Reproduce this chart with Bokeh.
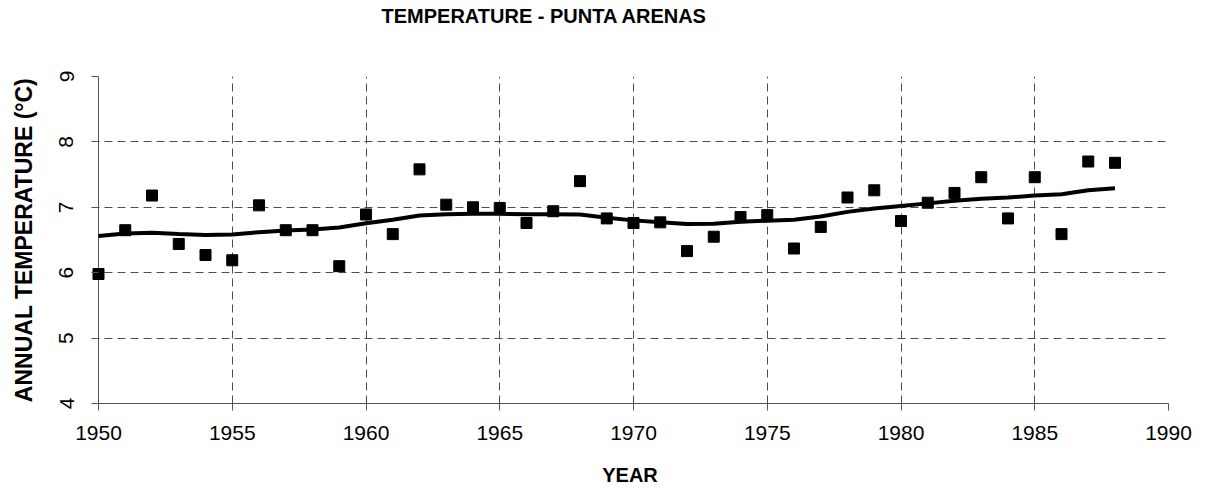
from bokeh.plotting import figure
from bokeh.models import Range1d, FixedTicker, Title, Span
from bokeh.embed import file_html
from bokeh.resources import INLINE

# ---- data ----
years = list(range(1950, 1989))
temps = [5.98, 6.65, 7.18, 6.44, 6.27, 6.19, 7.03, 6.65, 6.65, 6.10,
         6.89, 6.59, 7.58, 7.04, 7.00, 6.99, 6.76, 6.94, 7.40, 6.83,
         6.76, 6.77, 6.33, 6.55, 6.85, 6.88, 6.37, 6.70, 7.15, 7.26,
         6.79, 7.07, 7.22, 7.46, 6.83, 7.46, 6.59, 7.70, 7.68]
trend = [6.56, 6.60, 6.61, 6.59, 6.575, 6.585, 6.62, 6.645, 6.66, 6.69,
         6.755, 6.81, 6.875, 6.895, 6.90, 6.90, 6.895, 6.895, 6.89, 6.84,
         6.80, 6.77, 6.745, 6.75, 6.78, 6.795, 6.81, 6.86, 6.93, 6.98,
         7.02, 7.06, 7.10, 7.13, 7.15, 7.18, 7.20, 7.26, 7.29]
x_ticks = [1950, 1955, 1960, 1965, 1970, 1975, 1980, 1985, 1990]
y_ticks = [4, 5, 6, 7, 8, 9]
title_text = "TEMPERATURE - PUNTA ARENAS"

FONT = "Liberation Sans"
W, H = 1200, 488
FL, FR, FT, FB = 91, 1168, 75, 403
AXIS_X = 98                      # pixel where x=1950 sits
PX_PER_YEAR = (FR - AXIS_X) / 40.0
x_start = 1950 - (AXIS_X - FL) / PX_PER_YEAR
AXIS_GREY = "#555555"

p = figure(width=W, height=H,
           x_range=Range1d(x_start, 1990), y_range=Range1d(4, 9),
           output_backend="svg", toolbar_location=None,
           min_border_left=FL, min_border_right=W - FR,
           min_border_top=FT, min_border_bottom=H - FB,
           title=title_text)
p.outline_line_color = None
p.background_fill_color = "white"
p.border_fill_color = "white"

p.title.text_font = FONT
p.title.text_font_size = "20px"
p.title.text_font_style = "bold"
p.title.text_color = "black"
p.title.align = "left"
p.title.offset = 290
p.title.standoff = 4
# invisible spacer between the title and the frame
p.add_layout(Title(text=" ", text_font_size="1px", standoff=45), "above")

for g in (p.xgrid, p.ygrid):
    g.grid_line_color = "#4d4d4d"
    g.grid_line_dash = "8 5"
    g.grid_line_width = 1

p.xaxis.ticker = FixedTicker(ticks=x_ticks)
p.yaxis.ticker = FixedTicker(ticks=y_ticks)
p.xaxis.bounds = (1950, 1990)
for ax in (p.xaxis, p.yaxis):
    ax.axis_line_color = AXIS_GREY
    ax.axis_line_width = 1
    ax.major_tick_line_color = AXIS_GREY
    ax.minor_tick_line_color = None
    ax.major_label_text_font = FONT
    ax.major_label_text_font_size = "21px"
    ax.major_label_text_color = "black"
    ax.axis_label_text_font = FONT
    ax.axis_label_text_font_style = "bold"
    ax.axis_label_text_color = "black"

p.xaxis.major_tick_out = 7
p.xaxis.major_tick_in = 0
p.xaxis.axis_label = "YEAR"
p.xaxis.axis_label_text_font_size = "20px"
p.xaxis.major_label_standoff = 15
p.xaxis.axis_label_standoff = 21

# y axis sits at frame edge; its ticks point inward to reach the x=1950 line
p.yaxis.axis_line_color = None
p.yaxis.major_tick_out = 0
p.yaxis.major_tick_in = AXIS_X - FL
p.yaxis.axis_label = "ANNUAL TEMPERATURE (°C)"
p.yaxis.axis_label_text_font_size = "23px"
p.yaxis.major_label_orientation = "vertical"
p.yaxis.major_label_standoff = 18
p.yaxis.axis_label_standoff = 20

yline = Span(location=1950, dimension="height", line_color=AXIS_GREY,
             line_width=1, level="underlay")
p.add_layout(yline)

p.line(years, trend, line_color="black", line_width=4)
p.scatter(years, temps, marker="square", size=11,
          fill_color="black", line_color="black")

open("out.html", "w").write(file_html(p, INLINE))
